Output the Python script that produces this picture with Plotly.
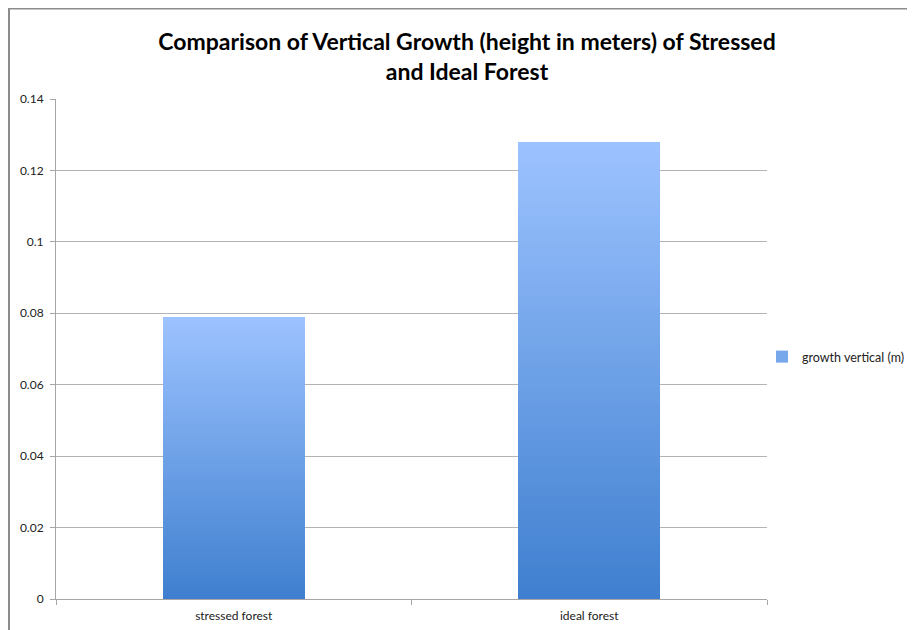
import plotly.graph_objects as go

categories = ["stressed forest", "ideal forest"]
values = [0.079, 0.128]
series_name = "growth vertical (m)"
y_ticks = [0, 0.02, 0.04, 0.06, 0.08, 0.1, 0.12, 0.14]

# gradient endpoints (bottom -> top of each bar)
c_bottom = (63, 127, 207)
c_top = (157, 195, 255)
N = 80

def lerp(a, b, t):
    return "rgb(%d,%d,%d)" % tuple(round(a[i] + (b[i] - a[i]) * t) for i in range(3))

fig = go.Figure()
for k in range(N):
    t = (k + 0.5) / N
    fig.add_trace(go.Bar(
        x=categories,
        y=[v / N for v in values],
        marker=dict(color=lerp(c_bottom, c_top, t), line=dict(width=0)),
        name=series_name,
        legendgroup="g",
        showlegend=(k == int(N * 0.6)),
        hoverinfo="skip",
    ))

# page body has an 8px margin; positions below are in figure coordinates
OFF = 8
W, H = 915, 630
L, R, T, B = 56 - OFF, 767 - OFF, 99 - OFF, 599 - OFF
pw, ph = R - L, B - T
def px(x):
    return (x - L) / pw
def py(y):
    return (B - y) / ph

border = "#8c8c8c"
fig.add_shape(type="line", xref="paper", yref="paper", x0=px(1), x1=px(1), y0=py(0), y1=py(650),
              line=dict(color=border, width=2))
fig.add_shape(type="line", xref="paper", yref="paper", x0=px(0), x1=px(950), y0=py(0.5), y1=py(0.5),
              line=dict(color=border, width=2))

fig.update_layout(
    width=W, height=H,
    barmode="stack",
    bargap=0.6,
    plot_bgcolor="white",
    paper_bgcolor="white",
    margin=dict(l=L, r=W - R, t=T, b=H - B, pad=0, autoexpand=False),
    font=dict(family="Lato, 'Open Sans', sans-serif", size=12, color="#222"),
    title=dict(
        text="<b>Comparison of Vertical Growth (height in meters) of Stressed<br>and Ideal Forest</b>",
        x=(467 - OFF) / W, xanchor="center", xref="container",
        y=1 - 42 / H, yanchor="top", yref="container",
        font=dict(family="Lato, 'Open Sans', sans-serif", size=23, color="black"),
    ),
    legend=dict(
        x=(762 - OFF - L) / pw, xanchor="left", y=py(357 - OFF), yanchor="middle",
        font=dict(size=12.5, color="#222"),
        itemwidth=30, tracegroupgap=0,
        bgcolor="rgba(0,0,0,0)",
    ),
    xaxis=dict(
        type="category",
        showline=True, linecolor="#a6a6a6", linewidth=1,
        showgrid=False,
        ticks="outside", tickson="boundaries", ticklen=5, tickcolor="#a6a6a6",
        tickfont=dict(size=12, color="#222"),
        ticklabelstandoff=6,
    ),
    yaxis=dict(
        range=[0, 0.14],
        tickvals=y_ticks,
        showline=True, linecolor="#a6a6a6", linewidth=1,
        showgrid=True, gridcolor="#b3b3b3", gridwidth=1,
        ticks="outside", ticklen=5, tickcolor="#a6a6a6",
        tickfont=dict(size=12, color="#222"),
        ticklabelstandoff=4,
        zeroline=False,
    ),
)

fig.write_html("out.html")
